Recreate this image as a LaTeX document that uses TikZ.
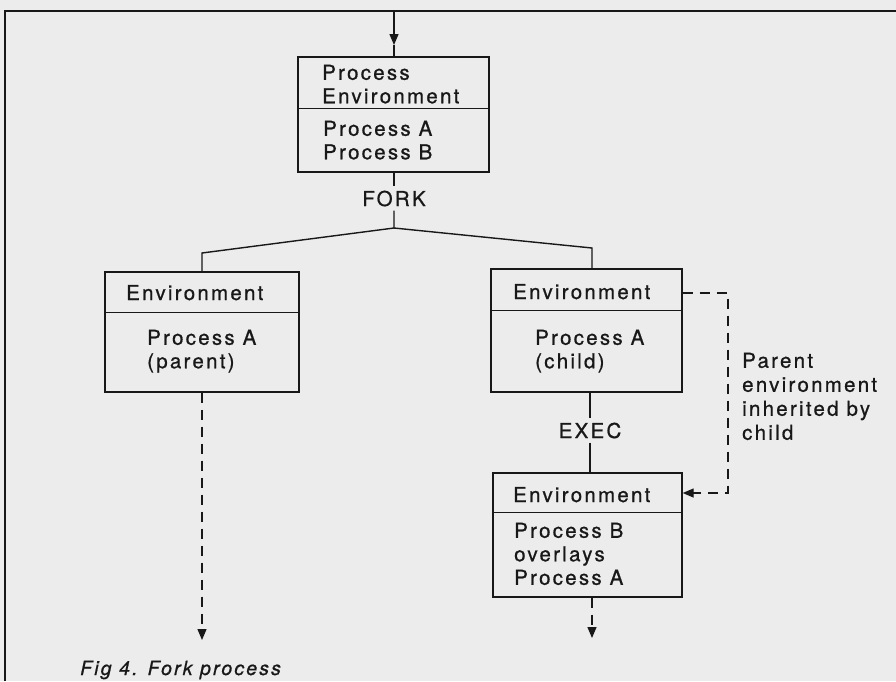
\documentclass[tikz,border=0pt]{standalone}
\usepackage{fontspec}
\setmainfont{TeX Gyre Heros}[LetterSpace=11,FakeBold=0.8]
\usetikzlibrary{arrows.meta,calc}
\definecolor{paper}{RGB}{236,236,236}
\definecolor{ink}{RGB}{24,24,24}
\begin{document}
\begin{tikzpicture}[x=1pt,y=-1pt]
\tikzset{
  ln/.style={draw=ink, line width=1.4pt},
  boxn/.style={draw=ink, line width=1.4pt, rectangle, inner sep=0pt},
  txt/.style={font=\fontsize{20.5}{23.5}\selectfont, text=ink, inner sep=0pt, align=left, anchor=north west},
  lbl/.style={font=\fontsize{20.5}{23.5}\selectfont, text=ink, inner xsep=2pt, inner ysep=4pt},
  dsh/.style={draw=ink, line width=1.4pt, dash pattern=on 10pt off 7pt},
  tip/.style={-{Triangle[length=11pt,width=9pt]}},
}
\fill[paper] (0,0) rectangle (896,681);
\useasboundingbox (0,0) rectangle (896,681);

% frame
\coordinate (fl) at (5,681);
\coordinate (fc) at (5,11);
\coordinate (fr) at (896,11);
\draw[draw=ink, line width=2pt] (fl) -- (fc) -- (fr);

% top box
\node[boxn, minimum width=191pt, minimum height=115pt] (top) at (393.5,114.5) {};
\draw[ln] ($(top.north west)+(0,52)$) -- ($(top.north east)+(0,52)$);
\node[txt] (t1) at (322,64.6) {Process\\Environment};
\node[txt] (t2) at (323,120.6) {Process A\\Process B};

% incoming arrow
\coordinate (ta) at (394,11);
\coordinate (tm) at (394,45);
\draw[ln,tip] (ta) -- (tm);
\draw[ln] (tm) -- (tm |- top.north);

% FORK
\node[lbl, anchor=base] (fork) at (394,206) {FORK};
\draw[ln] (fork.north |- top.south) -- (fork.north);
\coordinate (j) at (394,228);
\coordinate (jl) at (202,253);
\coordinate (jr) at (592,248);

% left box
\node[boxn, minimum width=194pt, minimum height=120pt] (lbox) at (202,332) {};
\draw[ln] ($(lbox.north west)+(0,41)$) -- ($(lbox.north east)+(0,41)$);
\node[txt, anchor=base west] (l1) at (126,300) {Environment};
\node[txt] (l2) at (147,329.6) {Process A\\(parent)};

% right box
\node[boxn, minimum width=191pt, minimum height=123pt] (rbox) at (586.5,330.5) {};
\draw[ln] ($(rbox.north west)+(0,42)$) -- ($(rbox.north east)+(0,42)$);
\node[txt, anchor=base west] (r1) at (513,299) {Environment};
\node[txt] (r2) at (535,329.6) {Process A\\(child)};

% branches
\draw[ln] (fork.south) -- (j) -- (jl) -- (jl |- lbox.north);
\draw[ln] (j) -- (jr) -- (jr |- rbox.north);

% EXEC
\node[lbl, anchor=base] (exec) at (590,438) {EXEC};
\node[boxn, minimum width=189pt, minimum height=124pt] (bbox) at (587.5,535) {};
\draw[ln] ($(bbox.north west)+(0,40)$) -- ($(bbox.north east)+(0,40)$);
\node[txt, anchor=base west] (b1) at (513,502) {Environment};
\node[txt] (b2) at (514,522.6) {Process B\\overlays\\Process A};
\draw[ln] (exec.north |- rbox.south) -- (exec.north);
\draw[ln] (exec.south) -- (exec.south |- bbox.north);

% inherited environment
\coordinate (dr1) at (728,293);
\coordinate (dr2) at (728,493);
\draw[dsh,tip] (rbox.east |- dr1) -- (dr1) -- (dr2) -- (bbox.east |- dr2);
\node[txt, font=\fontsize{20.5}{24}\selectfont] (note) at (742,352.6) {Parent\\environment\\inherited by\\child};

% continuing processes
\coordinate (le) at (202,640);
\draw[dsh,tip] (lbox.south) -- (le);
\coordinate (re) at (592,638);
\draw[dsh,tip] (re |- bbox.south) -- (re);

% caption
\node[anchor=base west, inner sep=0pt, text=ink, font=\fontsize{19.5}{22}\selectfont\itshape] (cap) at (80,675) {Fig 4. Fork process};
\end{tikzpicture}
\end{document}
